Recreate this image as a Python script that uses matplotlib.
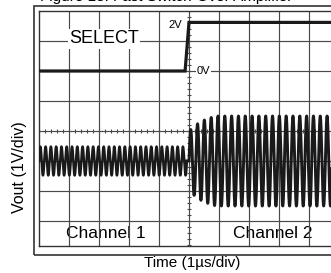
import numpy as np
import matplotlib
matplotlib.use("Agg")
import matplotlib.pyplot as plt
from matplotlib.patches import Rectangle

plt.rcParams['font.family'] = ['Liberation Sans', 'DejaVu Sans']

# ---- data (screen divisions, 1 us/div horizontally, y measured down from top) ----
select_t = [0.0, 4.87, 5.0, 10.0]          # time (div)
select_y = [2.0, 2.0, 0.38, 0.38]          # level (div from top): 0V at 2.0, 2V at 0.38

ch1_start, ch1_end = 0.0, 4.93            # channel 1 segment (div)
ch1_cycles = 28                            # cycles counted in channel 1 segment
ch1_amp = 0.48                             # amplitude (V, 1V/div)

ch2_start, ch2_end = 5.0, 10.0
ch2_cycles = 22
ch2_env_t = [5.0, 5.27, 5.43, 5.67, 5.9, 10.0]   # amplitude envelope
ch2_env_a = [1.0, 1.23, 1.33, 1.43, 1.5, 1.5]

vout_center = 5.0                          # centre line of Vout trace (div from top)

# ---- figure ----
W, H = 331, 273
fig = plt.figure(figsize=(W / 100, H / 100), dpi=100)
L, R, T, B = 39, 339, 11, 246
ax = fig.add_axes([L / W, 1 - B / H, (R - L) / W, (B - T) / H])
ax.set_xlim(0, 10)
ax.set_ylim((B - T) / 30, 0)
ax.set_xticks([]); ax.set_yticks([])
for s in ax.spines.values():
    s.set_linewidth(1.0); s.set_color('#333333')

grid_c = '#4a4a4a'
for gx in range(1, 10):
    ax.axvline(gx, color=grid_c, lw=0.85, zorder=1)
for gy in range(1, 8):
    ax.axhline(gy, color=grid_c, lw=0.85, zorder=1)

# centre-axis minor ticks
tk = np.arange(0, 10.01, 0.2)
ax.vlines(tk, 4 - 0.06, 4 + 0.06, color=grid_c, lw=0.8, zorder=1)
tky = np.arange(0, 7.9, 0.2)
ax.hlines(tky, 5 - 0.06, 5 + 0.06, color=grid_c, lw=0.8, zorder=1)

# SELECT trace
ax.plot(select_t, select_y, color='#1a1a1a', lw=2.3, zorder=3, solid_joinstyle='miter')

# Vout trace
t1 = np.linspace(ch1_start, ch1_end, 3000)
y1 = vout_center - ch1_amp * np.sin(2 * np.pi * ch1_cycles * (t1 - ch1_start) / (ch1_end - ch1_start))
t2 = np.linspace(ch2_start, ch2_end, 3000)
env = np.interp(t2, ch2_env_t, ch2_env_a)
y2 = vout_center - env * np.sin(2 * np.pi * ch2_cycles * (t2 - ch2_start) / (ch2_end - ch2_start))
ax.plot(t1, y1, color='#1a1a1a', lw=1.8, zorder=3)
ax.plot(np.r_[t1[-1], t2], np.r_[y1[-1], y2], color='#1a1a1a', lw=2.1, zorder=3)

# labels
ax.text(2.17, 0.92, 'SELECT', fontsize=13, ha='center', va='center', zorder=4,
        bbox=dict(facecolor='white', edgecolor='none', pad=1.0))
ax.text(4.77, 0.45, '2V', fontsize=8, ha='right', va='center', zorder=4)
ax.text(5.27, 2.0, '0V', fontsize=8, ha='left', va='center', zorder=4,
        bbox=dict(facecolor='white', edgecolor='none', pad=0.5))
ax.text(2.23, 7.43, 'Channel 1', fontsize=12.5, ha='center', va='center', zorder=0.5)
ax.text(7.8, 7.43, 'Channel 2', fontsize=12.5, ha='center', va='center', zorder=0.5)

fig.text(20 / W, 1 - 167 / H, 'Vout (1V/div)', rotation=90, fontsize=11.5,
         ha='center', va='center')
fig.text(192 / W, 1 - 263 / H, 'Time (1\u00b5s/div)', fontsize=11, ha='center', va='center')
fig.text(40 / W, 1 - 1.5 / H, 'Figure 13. Fast Switch-Over Amplifier', fontsize=11,
         ha='left', va='baseline')

# outer frame
fig.add_artist(Rectangle((34 / W, 1 - 255 / H), 400 / W, 249 / H, transform=fig.transFigure,
                         fill=False, edgecolor='#333333', lw=1.2))

fig.savefig('out.png', dpi=100)
